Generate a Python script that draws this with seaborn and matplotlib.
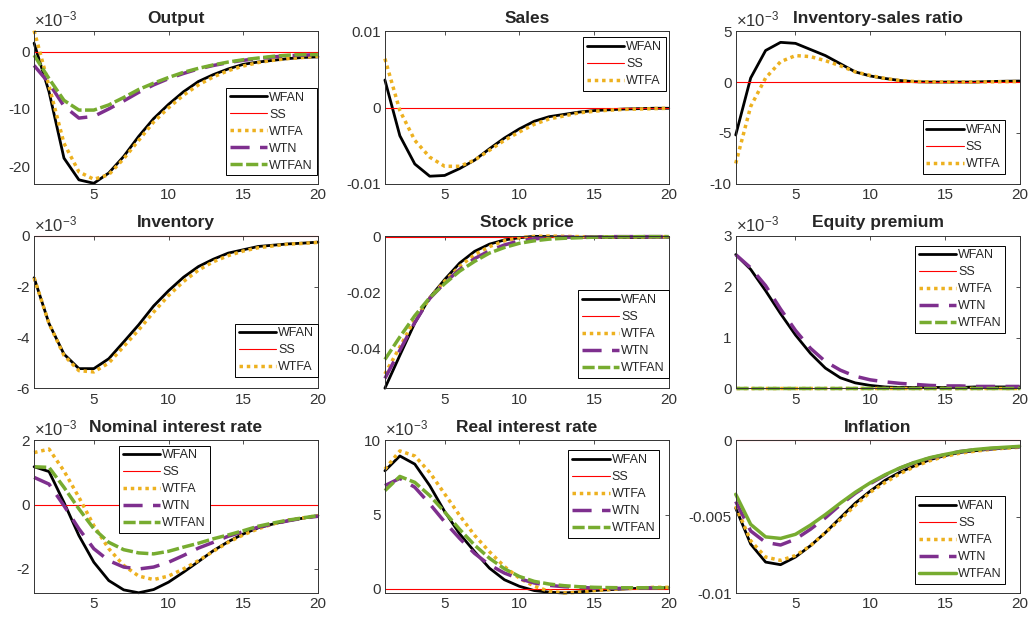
import numpy as np
import pandas as pd
import matplotlib.pyplot as plt
from matplotlib.ticker import FormatStrFormatter
import seaborn as sns

# === DATA ===
periods = list(range(1, 21))
zeros = [0.0] * 20

# Output (x1e-3)
output_wfan = [1.5, -7.0, -18.6, -22.4, -23.0, -21.2, -18.3, -14.8, -11.7, -9.2,
               -7.0, -5.2, -4.0, -3.0, -2.2, -1.8, -1.5, -1.2, -1.0, -0.9]
output_wtfa = [3.7, -6.0, -16.0, -21.0, -22.3, -21.5, -18.7, -15.5, -12.3, -9.8,
               -7.6, -5.8, -4.4, -3.3, -2.5, -1.9, -1.5, -1.2, -1.0, -0.8]
output_wtn = [-2.4, -5.5, -9.5, -11.6, -11.3, -10.0, -8.6, -7.1, -5.8, -4.7,
              -3.8, -3.0, -2.4, -1.9, -1.5, -1.2, -0.9, -0.7, -0.6, -0.5]
output_wtfan = [-0.6, -4.7, -8.5, -10.2, -10.2, -9.3, -8.0, -6.6, -5.5, -4.5,
                -3.6, -2.9, -2.3, -1.8, -1.4, -1.1, -0.8, -0.6, -0.5, -0.5]

# Sales
sales_wfan = [0.0036, -0.0037, -0.0074, -0.0090, -0.0089, -0.0080, -0.0069, -0.0054, -0.0040, -0.0028,
              -0.0018, -0.0012, -0.0009, -0.0006, -0.0004, -0.0003, -0.0002, -0.00015, -0.0001, -0.0001]
sales_wtfa = [0.0064, -0.0004, -0.0043, -0.0065, -0.0077, -0.0077, -0.0069, -0.0056, -0.0043, -0.0032,
              -0.0022, -0.0015, -0.0011, -0.0007, -0.0005, -0.00035, -0.00025, -0.0002, -0.00015, -0.0001]

# Inventory-sales ratio (x1e-3)
isr_wfan = [-5.2, 0.4, 3.1, 3.9, 3.8, 3.2, 2.6, 1.8, 1.0, 0.6,
            0.35, 0.15, 0.03, 0.0, 0.0, 0.0, 0.0, 0.05, 0.08, 0.1]
isr_wtfa = [-8.0, -2.4, 0.4, 2.0, 2.6, 2.5, 2.1, 1.6, 1.0, 0.65,
            0.35, 0.15, 0.05, 0.02, 0.0, 0.0, 0.0, 0.02, 0.04, 0.05]

# Inventory (x1e-3)
inv_wfan = [-1.65, -3.45, -4.65, -5.22, -5.22, -4.83, -4.17, -3.5, -2.76, -2.16,
            -1.63, -1.21, -0.92, -0.68, -0.55, -0.42, -0.37, -0.32, -0.29, -0.25]
inv_wtfa = [-1.65, -3.45, -4.7, -5.3, -5.35, -5.0, -4.35, -3.7, -3.0, -2.35,
            -1.8, -1.35, -1.02, -0.78, -0.6, -0.47, -0.4, -0.33, -0.3, -0.26]

# Stock price
stock_wfan = [-0.0544, -0.0426, -0.0310, -0.0219, -0.0154, -0.0095, -0.0053, -0.0027, -0.0012, -0.0004,
              0.0001, 0.0, -0.0001, -0.0002, -0.0003, -0.0003, -0.0003, -0.0003, -0.0002, -0.0002]
stock_wtfa = [-0.0493, -0.0396, -0.0296, -0.0221, -0.0160, -0.0107, -0.0065, -0.0036, -0.0015, -0.0004,
              0.0001, 0.0002, 0.0001, 0.0, -0.0001, -0.0001, -0.0001, -0.0001, -0.0001, 0.0]
stock_wtn = [-0.0509, -0.0408, -0.0308, -0.0222, -0.0166, -0.0118, -0.0079, -0.0051, -0.0030, -0.0015,
             -0.0008, -0.0004, -0.0002, -0.0001, -0.0001, 0.0, 0.0, 0.0, 0.0, 0.0]
stock_wtfan = [-0.0441, -0.0360, -0.0284, -0.0219, -0.0169, -0.0124, -0.0089, -0.0059, -0.0039, -0.0024,
               -0.0015, -0.0009, -0.0006, -0.0004, -0.0002, -0.0001, -0.0001, 0.0, 0.0, 0.0]

# Equity premium (x1e-3)
equity_wfan = [2.63, 2.34, 1.92, 1.47, 1.05, 0.69, 0.40, 0.21, 0.11, 0.06,
               0.03, 0.02, 0.02, 0.02, 0.02, 0.02, 0.03, 0.03, 0.03, 0.03]
equity_wtn = [2.63, 2.37, 2.02, 1.56, 1.14, 0.79, 0.53, 0.36, 0.24, 0.17,
              0.13, 0.10, 0.08, 0.06, 0.05, 0.05, 0.04, 0.04, 0.04, 0.04]

# Nominal interest rate (x1e-3)
nominal_wfan = [1.18, 1.03, 0.07, -0.96, -1.79, -2.36, -2.65, -2.74, -2.64, -2.41,
                -2.10, -1.77, -1.43, -1.15, -0.91, -0.72, -0.60, -0.50, -0.42, -0.34]
nominal_wtfa = [1.62, 1.73, 1.05, 0.23, -0.65, -1.37, -1.89, -2.22, -2.33, -2.22,
                -2.00, -1.74, -1.45, -1.17, -0.94, -0.75, -0.60, -0.48, -0.41, -0.34]
nominal_wtn = [0.85, 0.64, -0.03, -0.75, -1.37, -1.74, -1.94, -2.00, -1.94, -1.79,
               -1.58, -1.35, -1.17, -0.98, -0.84, -0.70, -0.60, -0.50, -0.42, -0.36]
nominal_wtfan = [1.18, 1.16, 0.54, -0.13, -0.75, -1.17, -1.40, -1.50, -1.53, -1.45,
                 -1.32, -1.20, -1.06, -0.94, -0.81, -0.67, -0.57, -0.48, -0.41, -0.34]

# Real interest rate (x1e-3)
real_wfan = [7.95, 8.95, 8.4, 6.95, 5.2, 3.7, 2.5, 1.38, 0.6, 0.16,
             -0.13, -0.24, -0.29, -0.22, -0.13, -0.07, -0.02, 0.02, 0.07, 0.07]
real_wtfa = [8.06, 9.29, 8.95, 7.84, 6.39, 4.94, 3.6, 2.49, 1.49, 0.71,
             0.16, -0.18, -0.29, -0.24, -0.13, -0.07, 0.0, 0.04, 0.09, 0.09]
real_wtn = [6.95, 7.44, 6.84, 5.72, 4.5, 3.39, 2.38, 1.6, 1.05, 0.67,
            0.38, 0.22, 0.13, 0.09, 0.04, 0.02, 0.02, 0.03, 0.04, 0.05]
real_wtfan = [6.61, 7.57, 7.17, 6.28, 5.17, 4.0, 2.94, 2.05, 1.34, 0.82,
              0.49, 0.31, 0.2, 0.13, 0.09, 0.07, 0.06, 0.06, 0.06, 0.06]

# Inflation
infl_wfan = [-0.00443, -0.00679, -0.00797, -0.00814, -0.00764, -0.0069, -0.00604, -0.00507, -0.00411, -0.00332,
             -0.00261, -0.00208, -0.00165, -0.00126, -0.0010, -0.00079, -0.00068, -0.00058, -0.00051, -0.00043]
infl_wtfa = [-0.0043, -0.00657, -0.00764, -0.00786, -0.00754, -0.0069, -0.00604, -0.00518, -0.00426, -0.0034,
             -0.00276, -0.00218, -0.00171, -0.00133, -0.00105, -0.00084, -0.00071, -0.0006, -0.00051, -0.00045]
infl_wtn = [-0.0040, -0.00593, -0.00668, -0.00685, -0.00647, -0.00582, -0.00507, -0.00422, -0.00347, -0.00283,
            -0.00229, -0.00182, -0.00143, -0.00116, -0.00094, -0.00073, -0.00062, -0.00054, -0.00047, -0.00041]
infl_wtfan = [-0.00353, -0.0055, -0.00632, -0.00642, -0.00615, -0.00555, -0.00486, -0.00411, -0.0034, -0.00278,
              -0.00225, -0.0018, -0.00143, -0.00113, -0.00092, -0.00073, -0.0006, -0.00051, -0.00045, -0.00039]

# === STYLE ===
sns.set_theme(style='white')
plt.rcParams['font.family'] = ['Liberation Sans', 'DejaVu Sans']
plt.rcParams['mathtext.default'] = 'regular'
plt.rcParams['axes.unicode_minus'] = False

styles = {
    'WFAN': dict(color='black', lw=2.0, ls='-'),
    'SS': dict(color='#FF0000', lw=0.8, ls='-'),
    'WTFA': dict(color='#EDB120', lw=2.5, ls=(0, (1, 1.1))),
    'WTN': dict(color='#7E2F8E', lw=2.5, ls=(0, (5.5, 3))),
    'WTFAN': dict(color='#77AC30', lw=2.5, ls=(0, (3.5, 1))),
}

panels = [
    dict(title='Output', sci=True, ylim=(-23.1, 3.6), yticks=[-20, -10, 0],
         lines={'WFAN': output_wfan, 'SS': zeros, 'WTFA': output_wtfa,
                'WTN': output_wtn, 'WTFAN': output_wtfan},
         leg=('lower right', (0.995, 0.055))),
    dict(title='Sales', sci=False, ylim=(-0.01, 0.01), yticks=[-0.01, 0, 0.01],
         lines={'WFAN': sales_wfan, 'SS': zeros, 'WTFA': sales_wtfa},
         leg=('upper right', (0.99, 0.96))),
    dict(title='Inventory-sales ratio', sci=True, ylim=(-10, 5), yticks=[-10, -5, 0, 5],
         lines={'WFAN': isr_wfan, 'SS': zeros, 'WTFA': isr_wtfa},
         leg=('lower right', (0.95, 0.065))),
    dict(title='Inventory', sci=True, ylim=(-6, 0), yticks=[-6, -4, -2, 0],
         lines={'WFAN': inv_wfan, 'SS': zeros, 'WTFA': inv_wtfa},
         leg=('lower right', (1.0, 0.075))),
    dict(title='Stock price', sci=False, ylim=(-0.0545, 0.0003), yticks=[-0.04, -0.02, 0],
         lines={'WFAN': stock_wfan, 'SS': zeros, 'WTFA': stock_wtfa,
                'WTN': stock_wtn, 'WTFAN': stock_wtfan},
         leg=('lower right', (1.0, 0.07))),
    dict(title='Equity premium', sci=True, ylim=(0, 3), yticks=[0, 1, 2, 3],
         lines={'WFAN': equity_wfan, 'SS': zeros, 'WTFA': zeros,
                'WTN': equity_wtn, 'WTFAN': zeros},
         leg=('upper right', (0.95, 0.935))),
    dict(title='Nominal interest rate', sci=True, ylim=(-2.75, 2), yticks=[-2, 0, 2],
         lines={'WFAN': nominal_wfan, 'SS': zeros, 'WTFA': nominal_wtfa,
                'WTN': nominal_wtn, 'WTFAN': nominal_wtfan},
         leg=('upper left', (0.3, 0.965))),
    dict(title='Real interest rate', sci=True, ylim=(-0.3, 10), yticks=[0, 5, 10],
         lines={'WFAN': real_wfan, 'SS': zeros, 'WTFA': real_wtfa,
                'WTN': real_wtn, 'WTFAN': real_wtfan},
         leg=('upper right', (0.965, 0.935))),
    dict(title='Inflation', sci=False, ylim=(-0.01, 0), yticks=[-0.01, -0.005, 0],
         lines={'WFAN': infl_wfan, 'SS': zeros, 'WTFA': infl_wtfa,
                'WTN': infl_wtn, 'WTFAN': infl_wtfan},
         leg=('lower right', (0.95, 0.06)), solid_wtfan=True),
]

# === PLOT ===
fig, axes = plt.subplots(3, 3, figsize=(10.33, 6.23), dpi=100)
fig.subplots_adjust(left=0.033, right=0.987, top=0.95, bottom=0.048,
                    wspace=0.236, hspace=0.34)

axis_color = '#333333'

for ax, p in zip(axes.flat, panels):
    for name, vals in p['lines'].items():
        st = dict(styles[name])
        if name == 'WTFAN' and p.get('solid_wtfan'):
            st['ls'] = '-'
        sns.lineplot(x=periods, y=vals, ax=ax, color=st['color'],
                     linewidth=st['lw'], linestyle=st['ls'], label=name,
                     estimator=None, sort=False, clip_on=False)
    ax.set_xlim(1, 20)
    ax.set_ylim(*p['ylim'])
    ax.set_xticks([5, 10, 15, 20])
    ax.set_yticks(p['yticks'])
    ax.yaxis.set_major_formatter(FormatStrFormatter('%g'))
    ax.tick_params(direction='in', top=True, right=True, length=3,
                   width=0.6, colors=axis_color, labelsize=11, pad=3)
    for sp in ax.spines.values():
        sp.set_color(axis_color)
        sp.set_linewidth(0.7)
    ax.set_xlabel('')
    ax.set_ylabel('')
    ax.set_title(p['title'], fontsize=12.5, fontweight='bold', pad=6)
    if p['sci']:
        ax.text(0.0, 1.01, r'$\times10^{-3}$', transform=ax.transAxes,
                ha='left', va='bottom', fontsize=12, color=axis_color)
    loc, anchor = p['leg']
    leg = ax.legend(loc=loc, bbox_to_anchor=anchor, fontsize=9, frameon=True,
                    fancybox=False, edgecolor='black', framealpha=1,
                    handlelength=3.0, handletextpad=0.15, labelspacing=0.4,
                    borderpad=0.3, borderaxespad=0.0)
    leg.get_frame().set_linewidth(0.7)
    leg.set_zorder(5)

plt.savefig('out.png', dpi=100)
